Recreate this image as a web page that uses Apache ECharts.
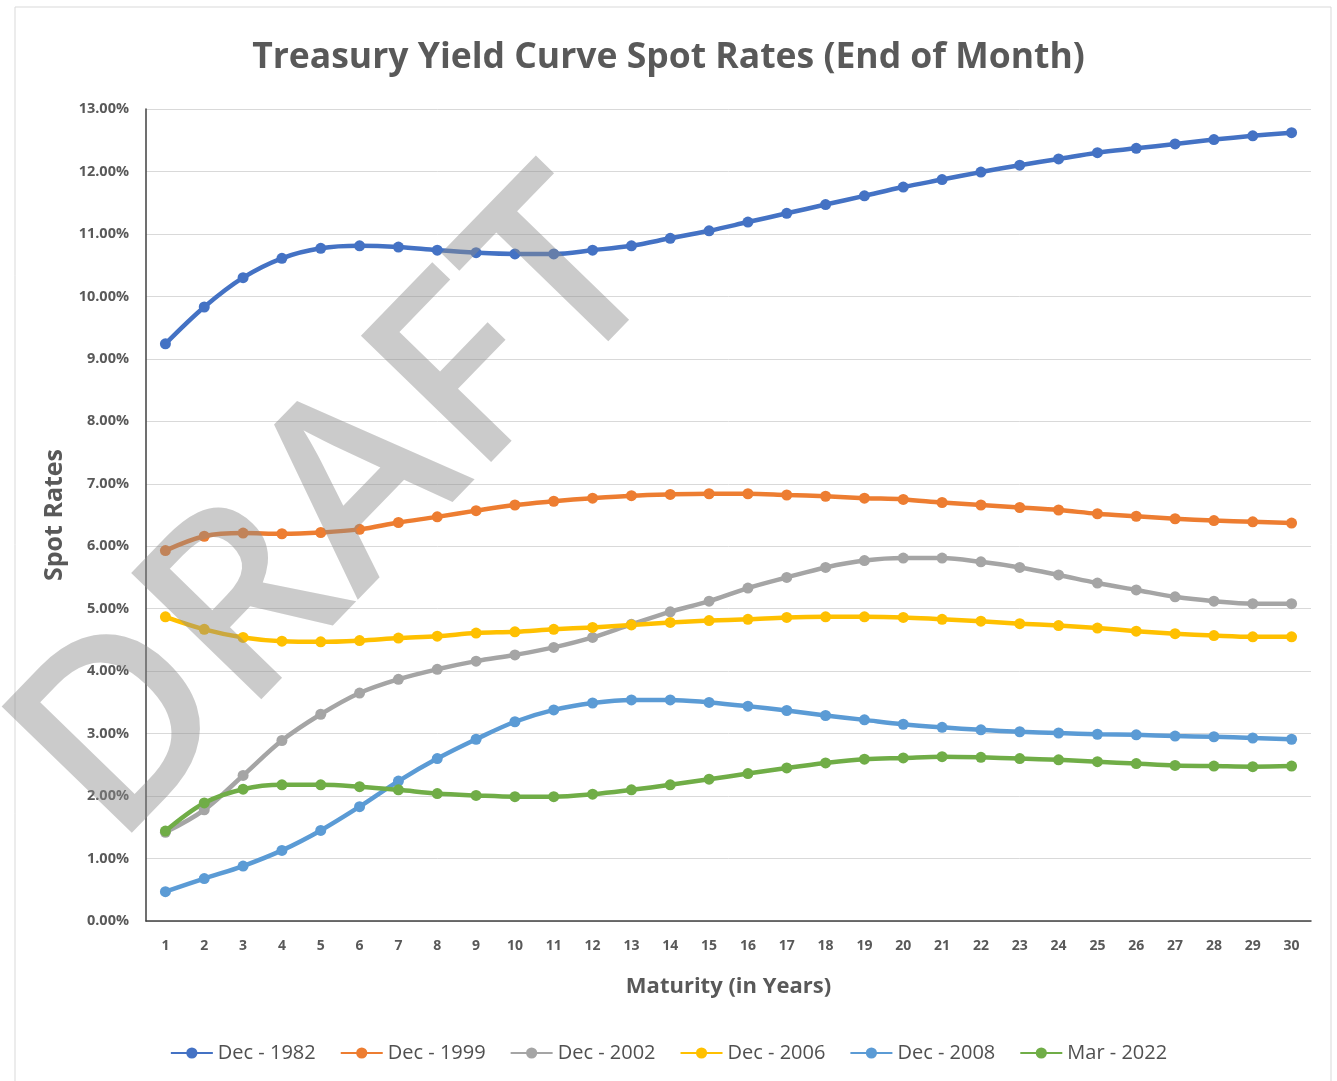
<!DOCTYPE html>
<html>
<head>
<meta charset="utf-8">
<title>Treasury Yield Curve Spot Rates</title>
<script src="https://cdn.jsdelivr.net/npm/echarts@6/dist/echarts.min.js"></script>
<style>
  html, body { margin: 0; padding: 0; background: #fff; }
  #chart { width: 1337px; height: 1081px; }
</style>
</head>
<body>
<div id="chart"></div>
<script>
// maturities 1..30 years
var maturities = [];
for (var m = 1; m <= 30; m++) maturities.push(String(m));

// spot rates in percent
var dec1982 = [9.24, 9.83, 10.30, 10.61, 10.77, 10.81, 10.79, 10.74, 10.70, 10.68, 10.68, 10.74, 10.81, 10.93, 11.05,
    11.19, 11.33, 11.47, 11.61, 11.75, 11.87, 11.99, 12.10, 12.20, 12.30, 12.37, 12.44, 12.51, 12.57, 12.62];
var dec1999 = [5.93, 6.16, 6.21, 6.20, 6.22, 6.27, 6.38, 6.47, 6.57, 6.66, 6.72, 6.77, 6.81, 6.83, 6.84,
    6.84, 6.82, 6.80, 6.77, 6.75, 6.70, 6.66, 6.62, 6.58, 6.52, 6.48, 6.44, 6.41, 6.39, 6.37];
var dec2002 = [1.42, 1.78, 2.33, 2.89, 3.31, 3.65, 3.87, 4.03, 4.16, 4.26, 4.38, 4.54, 4.75, 4.95, 5.12,
    5.33, 5.50, 5.66, 5.77, 5.81, 5.81, 5.75, 5.66, 5.54, 5.41, 5.30, 5.19, 5.12, 5.08, 5.08];
var dec2006 = [4.87, 4.67, 4.54, 4.48, 4.47, 4.49, 4.53, 4.56, 4.61, 4.63, 4.67, 4.70, 4.74, 4.78, 4.81,
    4.83, 4.86, 4.87, 4.87, 4.86, 4.83, 4.80, 4.76, 4.73, 4.69, 4.64, 4.60, 4.57, 4.55, 4.55];
var dec2008 = [0.47, 0.68, 0.88, 1.13, 1.45, 1.83, 2.24, 2.60, 2.91, 3.19, 3.38, 3.49, 3.54, 3.54, 3.50,
    3.44, 3.37, 3.29, 3.22, 3.15, 3.10, 3.06, 3.03, 3.01, 2.99, 2.98, 2.96, 2.95, 2.93, 2.91];
var mar2022 = [1.44, 1.89, 2.11, 2.18, 2.18, 2.15, 2.10, 2.04, 2.01, 1.99, 1.99, 2.03, 2.10, 2.18, 2.27,
    2.36, 2.45, 2.53, 2.59, 2.61, 2.63, 2.62, 2.60, 2.58, 2.55, 2.52, 2.49, 2.48, 2.47, 2.48];

var seriesNames = ['Dec - 1982', 'Dec - 1999', 'Dec - 2002', 'Dec - 2006', 'Dec - 2008', 'Mar - 2022'];
var seriesData = [dec1982, dec1999, dec2002, dec2006, dec2008, mar2022];
var colors = ['#4472C4', '#ED7D31', '#A5A5A5', '#FFC000', '#5B9BD5', '#70AD47'];

var font = '"Open Sans", "Noto Sans", sans-serif';
var textGray = '#595959';

var series = seriesNames.map(function (name, i) {
    return {
        name: name,
        type: 'line',
        data: seriesData[i],
        smooth: 0.35,
        symbol: 'circle',
        symbolSize: 11,
        lineStyle: { width: 4.5, color: colors[i] },
        itemStyle: { color: colors[i] },
        emphasis: { disabled: true }
    };
});

var option = {
    backgroundColor: '#fff',
    animation: false,
    title: {
        text: 'Treasury Yield Curve Spot Rates (End of Month)',
        left: 'center',
        top: 35,
        textStyle: { fontFamily: font, fontSize: 35.5, fontWeight: 'bold', color: textGray }
    },
    legend: {
        data: seriesNames,
        left: 'center',
        top: 1038,
        itemWidth: 42,
        itemHeight: 14,
        itemGap: 24,
        textStyle: { fontFamily: font, fontSize: 20, color: '#505050' }
    },
    grid: { left: 146, right: 26, top: 109, bottom: 160 },
    xAxis: {
        type: 'category',
        data: maturities,
        name: 'Maturity (in Years)',
        nameLocation: 'middle',
        nameGap: 55,
        nameTextStyle: { fontFamily: font, fontSize: 22, fontWeight: 'bold', color: textGray },
        axisLine: { lineStyle: { color: '#404040', width: 1.5 } },
        axisTick: { alignWithLabel: true, length: 5, lineStyle: { color: '#404040' } },
        axisLabel: { fontFamily: font, fontSize: 14, fontWeight: 'bold', color: textGray, margin: 18 },
        splitLine: { show: false }
    },
    yAxis: {
        type: 'value',
        min: 0,
        max: 13,
        interval: 1,
        name: 'Spot Rates',
        nameLocation: 'middle',
        nameGap: 76,
        nameTextStyle: { fontFamily: font, fontSize: 25, fontWeight: 'bold', color: textGray },
        axisLine: { show: true, lineStyle: { color: '#404040', width: 1.5 } },
        axisTick: { show: false },
        axisLabel: {
            fontFamily: font, fontSize: 14.5, fontWeight: 'bold', color: textGray, margin: 17,
            formatter: function (v) { return v.toFixed(2) + '%'; }
        },
        splitLine: { lineStyle: { color: '#d9d9d9', width: 1 } }
    },
    graphic: [
        {
            type: 'rect',
            z: -1,
            shape: { x: 15, y: 7, width: 1316, height: 1090 },
            style: { fill: 'none', stroke: '#d9d9d9', lineWidth: 1 }
        },
        {
            // DRAFT watermark
            type: 'text',
            z: 100,
            x: 340,
            y: 514,
            rotation: Math.PI * 0.255,
            style: {
                text: 'DRAFT',
                fontFamily: font,
                fontSize: 254,
                fontWeight: 600,
                fill: 'rgba(140,140,140,0.45)',
                align: 'center',
                verticalAlign: 'middle'
            }
        }
    ],
    series: series
};

var myChart = echarts.init(document.getElementById('chart'));
myChart.setOption(option);
</script>
</body>
</html>
